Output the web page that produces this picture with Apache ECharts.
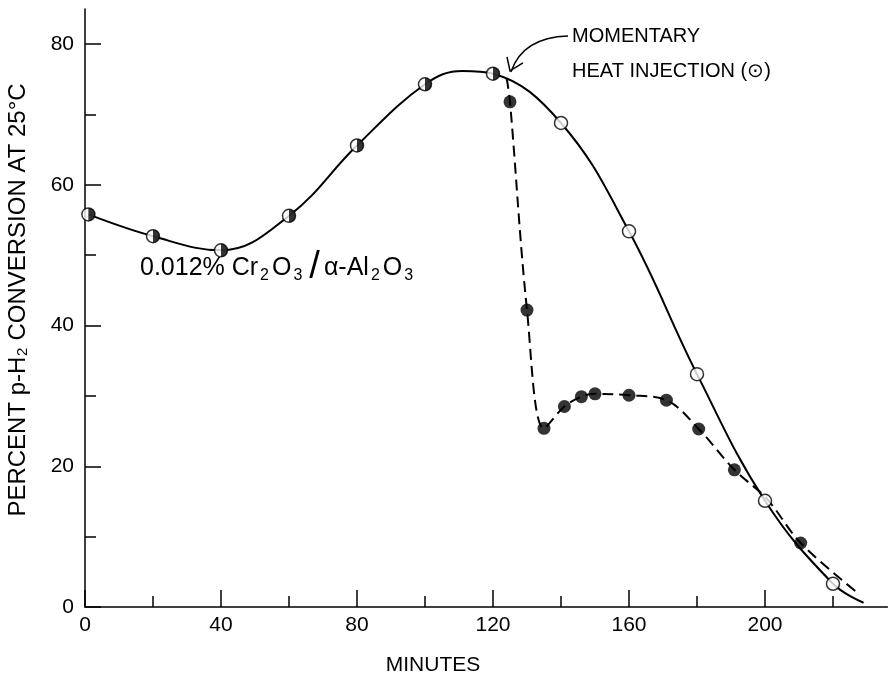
<!DOCTYPE html>
<html>
<head>
<meta charset="utf-8">
<script src="https://cdn.jsdelivr.net/npm/echarts@6/dist/echarts.min.js"></script>
<style>
html,body{margin:0;padding:0;background:#fff;}
#chart{width:892px;height:681px;}
</style>
</head>
<body>
<div id="chart"></div>
<script>
// Half-filled markers (solid curve, before heat injection)
const xHalf = [1, 20, 40, 60, 80, 100, 120];
const yHalf = [55.8, 52.7, 50.7, 55.6, 65.6, 74.3, 75.8];
// Open circles (solid curve, after)
const xOpen = [140, 160, 180, 200, 220];
const yOpen = [68.8, 53.4, 33.1, 15.1, 3.3];
// Filled circles (dashed curve, after heat injection)
const xFilled = [125, 130, 135, 141, 146, 150, 160, 171, 180.5, 191, 210.5];
const yFilled = [71.8, 42.2, 25.4, 28.5, 29.9, 30.3, 30.1, 29.4, 25.3, 19.5, 9.1];
// Extra points (curve ends / start)
const solidPeak = [111, 76.2];
const solidEnd = [229, 0.6];
const dashedStart = [124, 75.2];
const dashedMid = [200.5, 15.4];
const dashedEnd = [227.5, 1.9];
// Axis ticks
const xMajor = [0, 40, 80, 120, 160, 200];
const xMinor = [20, 60, 100, 140, 180, 220];
const yMajor = [0, 20, 40, 60, 80];
const yMinor = [10, 30, 50, 70];

const pairs = (xs, ys) => xs.map((x, i) => [x, ys[i]]);
const halfPts = pairs(xHalf, yHalf);
const openPts = pairs(xOpen, yOpen);
const filledPts = pairs(xFilled, yFilled);
const solidCurve = halfPts.filter(p => p[0] < 110).concat([solidPeak], halfPts.filter(p => p[0] > 110), openPts, [solidEnd]);
const dashedCurve = [dashedStart].concat(filledPts.filter(p => p[0] < 200), [dashedMid], filledPts.filter(p => p[0] > 200), [dashedEnd]);

const FONT = 'Liberation Sans';
const chart = echarts.init(document.getElementById('chart'));

const xBase = {
  type: 'value', min: 0, max: 236, gridIndex: 0,
  splitLine: {show: false},
  axisLine: {show: true, onZero: false, lineStyle: {color: '#000', width: 1.5}},
};
const yBase = {
  type: 'value', min: 0, max: 85, gridIndex: 0,
  splitLine: {show: false},
  axisLine: {show: true, onZero: false, lineStyle: {color: '#000', width: 1.5}},
};

chart.setOption({
  animation: false,
  backgroundColor: '#fff',
  grid: {left: 85, right: 4.6, top: 9, bottom: 74, containLabel: false},
  xAxis: [
    Object.assign({}, xBase, {
      position: 'bottom',
      axisTick: {show: true, inside: true, length: 17, customValues: xMajor, lineStyle: {color: '#000', width: 1.5}},
      axisLabel: {show: true, margin: 8, customValues: xMajor, color: '#000', fontFamily: FONT, fontSize: 21},
    }),
    Object.assign({}, xBase, {
      position: 'bottom', offset: 0,
      axisLine: {show: false},
      axisTick: {show: true, inside: true, length: 11, customValues: xMinor, lineStyle: {color: '#000', width: 1.5}},
      axisLabel: {show: false},
    }),
  ],
  yAxis: [
    Object.assign({}, yBase, {
      position: 'left',
      axisTick: {show: true, inside: true, length: 16, customValues: yMajor, lineStyle: {color: '#000', width: 1.5}},
      axisLabel: {show: true, margin: 11, customValues: yMajor, color: '#000', fontFamily: FONT, fontSize: 21},
    }),
    Object.assign({}, yBase, {
      position: 'left', offset: 0,
      axisLine: {show: false},
      axisTick: {show: true, inside: true, length: 11, customValues: yMinor, lineStyle: {color: '#000', width: 1.5}},
      axisLabel: {show: false},
    }),
  ],
  series: [
    {
      type: 'line', data: solidCurve, smooth: 0.4, symbol: 'none',
      lineStyle: {color: '#000', width: 2}, z: 2,
    },
    {
      type: 'line', data: dashedCurve, smooth: 0.35, symbol: 'none',
      lineStyle: {color: '#000', width: 2, type: [11, 6]}, z: 2,
    },
    {
      type: 'scatter', data: halfPts, symbol: 'circle', symbolSize: 13,
      itemStyle: {color: '#fff', borderColor: '#000', borderWidth: 1.5}, z: 3,
    },
    {
      type: 'scatter', data: halfPts, symbol: 'path://M0,0A10,10,0,0,1,0,20Z',
      symbolSize: [6.5, 13], symbolOffset: [3.25, 0],
      itemStyle: {color: '#000'}, z: 4,
    },
    {
      type: 'scatter', data: openPts, symbol: 'circle', symbolSize: 13,
      itemStyle: {color: '#fff', borderColor: '#000', borderWidth: 1.5}, z: 3,
    },
    {
      type: 'scatter', data: filledPts, symbol: 'circle', symbolSize: 13,
      itemStyle: {color: '#000'}, z: 3,
    },
  ],
});

const tip = chart.convertToPixel({xAxisIndex: 0, yAxisIndex: 0}, [125, 76.2]);
const tx = tip[0], ty = tip[1];
chart.setOption({
  graphic: [
    {
      type: 'text', x: 18, y: 300, rotation: Math.PI / 2,
      style: {
        text: 'PERCENT p-H₂ CONVERSION AT 25°C',
        fontFamily: FONT, fontSize: 24, fill: '#000',
        align: 'center', verticalAlign: 'middle'
      }
    },
    {
      type: 'text', x: 433, y: 665,
      style: {text: 'MINUTES', fontFamily: FONT, fontSize: 21, fill: '#000', align: 'center', verticalAlign: 'middle'}
    },
    {
      type: 'text', x: 572, y: 36,
      style: {text: 'MOMENTARY', fontFamily: FONT, fontSize: 20, fill: '#000', align: 'left', verticalAlign: 'middle'}
    },
    {
      type: 'text', x: 572, y: 71,
      style: {text: 'HEAT INJECTION (⊙)', fontFamily: FONT, fontSize: 20, fill: '#000', align: 'left', verticalAlign: 'middle'}
    },
    {
      type: 'text', x: 140, y: 268,
      style: {
        text: '{a|0.012% Cr}{s|2}{a|O}{s|3}{b|/}{a|α-Al}{s|2}{a|O}{s|3}',
        align: 'left', verticalAlign: 'middle',
        rich: {
          a: {fontFamily: FONT, fontSize: 25, fill: '#000', verticalAlign: 'middle'},
          s: {fontFamily: FONT, fontSize: 16, fill: '#000', padding: [16, 3, 0, 2]},
          b: {fontFamily: FONT, fontSize: 38, fill: '#000', padding: [0, 4, 0, 4]}
        }
      }
    },
    {
      type: 'bezierCurve',
      shape: {x1: 568, y1: 36, x2: tx + 1, y2: ty + 1, cpx1: 535, cpy1: 37, cpx2: tx + 8, cpy2: ty - 20},
      style: {stroke: '#000', lineWidth: 1.5, fill: null}
    },
    {
      type: 'polyline',
      shape: {points: [[tx - 3, ty - 14], [tx, ty], [tx + 13, ty - 8]]},
      style: {stroke: '#000', lineWidth: 1.5, fill: null}
    }
  ]
});
</script>
</body>
</html>
